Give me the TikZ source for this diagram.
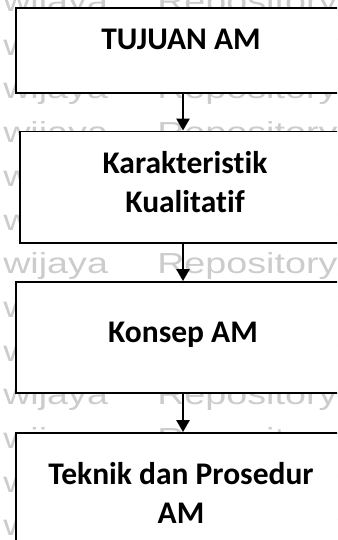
\documentclass[tikz,border=0pt]{standalone}
\usepackage{fontspec}
\setmainfont{Carlito}[Ligatures=CommonOff]
\newfontfamily\wmfont{Liberation Sans}
\usetikzlibrary{arrows.meta}
\begin{document}
\begin{tikzpicture}[x=1pt,y=-1pt,
  box/.style={draw=black, line width=1.8pt, fill=white, rectangle, inner sep=0pt},
  lbl/.style={font=\bfseries\fontsize{31.5}{39}\selectfont, align=center, anchor=base, inner sep=0pt},
  wm/.style={font=\wmfont\fontsize{29}{29}\selectfont, text=black!20, anchor=base west, inner sep=0pt, xscale=1.3},
  link/.style={line width=2.4pt, -{Triangle[width=13pt,length=12pt]}}]
\clip (0,0) rectangle (337,540);
\fill[white] (0,0) rectangle (337,540);
% background watermark rows
\foreach \k in {0,...,12} {
  \pgfmathsetmacro\yy{11.5+43.7*\k}
  \node[wm] (wmL\k) at (3,\yy) {wijaya};
  \node[wm] (wmR\k) at (157,\yy) {Repository};
}
% boxes
\node[box, minimum width=334pt, minimum height=85pt]    (b1) at (183,50.5) {};
\node[box, minimum width=326pt, minimum height=111.5pt] (b2) at (183,187.25) {};
\node[box, minimum width=334pt, minimum height=111pt]   (b3) at (183,337.5) {};
\node[box, minimum width=334pt, minimum height=150pt]   (b4) at (183,508) {};
% labels (base anchor sits on the last line)
\node[lbl] (t1) at (181,50) {TUJUAN AM};
\node[lbl] (t2) at (185,212) {Karakteristik\\Kualitatif};
\node[lbl] (t3) at (183,342) {Konsep AM};
\node[lbl] (t4) at (181,523) {Teknik dan Prosedur\\AM};
% connectors
\draw[link] (b1.south) -- (b2.north);
\draw[link] (b2.south) -- (b3.north);
\draw[link] (b3.south) -- (b4.north);
\end{tikzpicture}
\end{document}
